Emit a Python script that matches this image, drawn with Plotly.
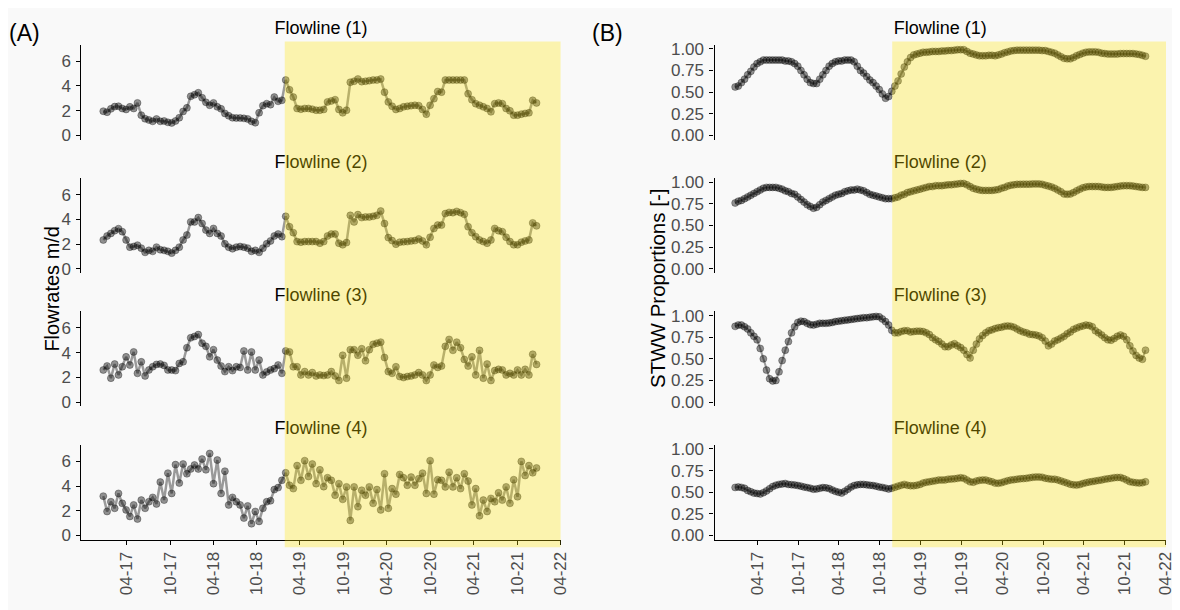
import pandas as pd
import plotly.graph_objects as go

# ---------------- data ----------------
dates_a = pd.date_range("2016-12-24", periods=115, freq="16D")
dates_b = pd.date_range("2016-12-24", periods=132, freq="14D")

flow_1 = [1.96, 1.88, 2.15, 2.33, 2.36, 2.18, 2.10, 2.31, 2.18, 2.63, 1.64, 1.35, 1.25, 1.14, 1.33, 1.14, 1.17, 1.06, 1.01, 1.17,
          1.43, 1.94, 2.23, 3.16, 3.29, 3.45, 3.05, 2.68, 2.44, 2.63, 2.31, 2.15, 1.78, 1.59, 1.43, 1.41, 1.41, 1.38, 1.33, 1.14,
          1.03, 1.83, 2.41, 2.57, 2.49, 3.10, 2.76, 2.84, 4.48, 3.69, 3.10, 2.18, 2.12, 2.18, 2.18, 2.12, 2.04, 2.04, 2.10, 2.71,
          2.79, 2.89, 2.10, 1.83, 2.04, 4.30, 4.38, 4.56, 4.35, 4.38, 4.43, 4.48, 4.48, 4.56, 3.50, 2.71, 2.36, 2.10, 2.18, 2.31,
          2.36, 2.41, 2.44, 2.41, 2.10, 1.72, 2.44, 2.97, 3.55, 3.50, 4.48, 4.48, 4.48, 4.48, 4.48, 4.48, 3.37, 2.89, 2.57, 2.44,
          2.31, 2.18, 1.91, 2.57, 2.63, 2.57, 2.18, 1.99, 1.64, 1.64, 1.72, 1.78, 1.83, 2.84, 2.63]
flow_2 = [2.33, 2.65, 2.86, 3.08, 3.24, 3.00, 2.33, 1.75, 1.80, 1.91, 1.67, 1.33, 1.49, 1.41, 1.75, 1.54, 1.49, 1.41, 1.27, 1.49,
          1.75, 2.33, 2.73, 3.79, 3.79, 4.14, 3.66, 3.13, 2.86, 3.26, 2.86, 2.65, 2.02, 1.75, 1.62, 1.75, 1.80, 1.75, 1.67, 1.41,
          1.49, 1.33, 1.67, 2.02, 2.25, 2.65, 2.81, 2.60, 4.24, 3.40, 2.92, 2.20, 2.15, 2.20, 2.20, 2.20, 2.20, 2.07, 2.20, 2.65,
          2.81, 2.81, 2.07, 1.94, 2.12, 4.32, 3.79, 4.38, 4.14, 4.19, 4.19, 4.24, 4.32, 4.67, 3.66, 2.52, 2.28, 1.99, 2.15, 2.18,
          2.20, 2.25, 2.28, 2.41, 2.25, 1.94, 2.55, 3.26, 3.53, 3.53, 4.46, 4.56, 4.54, 4.64, 4.54, 4.40, 3.40, 2.92, 2.60, 2.33,
          2.20, 2.07, 2.33, 3.26, 3.08, 3.00, 2.55, 2.20, 1.94, 1.94, 2.15, 2.25, 2.33, 3.71, 3.47]
flow_3 = [2.60, 2.92, 1.94, 3.08, 2.20, 2.86, 3.66, 3.00, 4.06, 2.33, 3.26, 2.12, 2.60, 2.86, 3.05, 3.08, 2.97, 2.60, 2.60, 2.55,
          3.13, 3.26, 4.40, 5.20, 5.31, 5.46, 4.77, 4.51, 3.66, 4.24, 3.40, 2.92, 2.47, 2.86, 2.55, 2.86, 2.81, 4.14, 2.60, 4.06,
          2.60, 3.40, 2.20, 2.44, 2.60, 2.71, 3.00, 2.33, 4.14, 4.06, 2.86, 2.86, 2.20, 2.47, 2.20, 2.39, 2.12, 2.20, 2.15, 2.20,
          2.47, 2.12, 1.75, 3.79, 1.94, 4.24, 4.24, 3.79, 4.32, 3.34, 4.24, 4.67, 4.77, 4.85, 3.61, 2.47, 2.33, 2.86, 2.07, 1.99,
          2.07, 2.12, 2.20, 2.39, 2.20, 1.75, 2.20, 3.00, 2.81, 2.92, 4.51, 5.07, 4.19, 4.85, 4.40, 3.45, 2.92, 3.66, 2.20, 4.19,
          1.94, 3.08, 1.75, 2.55, 2.65, 2.60, 2.20, 2.33, 2.20, 2.60, 2.20, 2.65, 2.20, 3.87, 3.05]
flow_4 = [3.18, 1.94, 2.73, 2.20, 3.40, 2.60, 2.07, 1.54, 2.47, 1.33, 2.86, 2.20, 2.73, 3.08, 2.55, 4.32, 2.86, 5.04, 3.40, 5.73,
          4.24, 5.78, 4.99, 5.38, 5.70, 5.38, 6.18, 5.31, 6.63, 4.19, 6.10, 3.40, 5.20, 2.47, 3.08, 2.73, 2.47, 1.41, 2.39, 0.95,
          1.94, 1.14, 2.20, 2.73, 2.81, 3.71, 3.87, 4.46, 5.07, 4.06, 3.79, 5.65, 4.46, 6.05, 4.77, 5.78, 4.19, 5.31, 3.95, 4.67,
          4.46, 3.26, 4.19, 2.92, 3.93, 1.22, 3.93, 2.33, 3.66, 3.26, 3.93, 2.60, 3.71, 2.07, 4.99, 2.20, 3.79, 3.34, 4.93, 4.67,
          4.06, 4.72, 4.06, 4.59, 5.04, 3.40, 6.05, 3.34, 4.51, 4.46, 3.93, 5.12, 3.93, 4.67, 3.79, 4.99, 4.40, 2.47, 3.79, 1.59,
          2.86, 1.94, 3.00, 2.73, 3.45, 2.86, 3.93, 2.60, 4.51, 3.13, 5.99, 4.85, 5.65, 5.07, 5.46]

stww_1 = [0.56, 0.57, 0.61, 0.65, 0.70, 0.74, 0.79, 0.83, 0.85, 0.87, 0.87, 0.87, 0.87, 0.87, 0.87, 0.87, 0.86, 0.86, 0.85, 0.83,
          0.80, 0.75, 0.70, 0.65, 0.61, 0.60, 0.60, 0.65, 0.70, 0.75, 0.80, 0.83, 0.85, 0.86, 0.86, 0.87, 0.87, 0.87, 0.85, 0.80,
          0.75, 0.72, 0.68, 0.64, 0.61, 0.57, 0.53, 0.48, 0.43, 0.45, 0.51, 0.57, 0.63, 0.71, 0.79, 0.85, 0.90, 0.93, 0.94, 0.95,
          0.96, 0.96, 0.965, 0.97, 0.97, 0.97, 0.975, 0.975, 0.98, 0.98, 0.985, 0.99, 0.99, 0.99, 0.97, 0.95, 0.94, 0.93, 0.92, 0.92,
          0.92, 0.925, 0.925, 0.92, 0.93, 0.94, 0.955, 0.965, 0.975, 0.98, 0.985, 0.985, 0.985, 0.985, 0.985, 0.985, 0.985, 0.985, 0.98, 0.98,
          0.97, 0.96, 0.95, 0.93, 0.91, 0.89, 0.885, 0.885, 0.90, 0.92, 0.935, 0.95, 0.96, 0.965, 0.965, 0.965, 0.96, 0.95, 0.945, 0.94,
          0.94, 0.94, 0.94, 0.945, 0.945, 0.945, 0.945, 0.945, 0.94, 0.935, 0.925, 0.915]
stww_2 = [0.76, 0.78, 0.79, 0.81, 0.83, 0.85, 0.87, 0.89, 0.91, 0.93, 0.94, 0.94, 0.94, 0.94, 0.93, 0.92, 0.90, 0.89, 0.87, 0.86,
          0.83, 0.80, 0.77, 0.74, 0.72, 0.70, 0.71, 0.74, 0.77, 0.79, 0.81, 0.83, 0.85, 0.86, 0.87, 0.89, 0.90, 0.91, 0.91, 0.92,
          0.91, 0.90, 0.88, 0.86, 0.85, 0.84, 0.83, 0.82, 0.81, 0.81, 0.81, 0.82, 0.83, 0.85, 0.86, 0.88, 0.89, 0.90, 0.91, 0.92,
          0.93, 0.94, 0.95, 0.95, 0.96, 0.96, 0.96, 0.965, 0.97, 0.97, 0.975, 0.98, 0.985, 0.985, 0.97, 0.95, 0.93, 0.92, 0.91, 0.905,
          0.905, 0.905, 0.905, 0.91, 0.915, 0.93, 0.94, 0.955, 0.965, 0.97, 0.975, 0.975, 0.977, 0.977, 0.977, 0.98, 0.98, 0.98, 0.975, 0.965,
          0.955, 0.945, 0.93, 0.91, 0.89, 0.865, 0.86, 0.865, 0.88, 0.90, 0.92, 0.935, 0.945, 0.95, 0.95, 0.95, 0.95, 0.945, 0.94, 0.94,
          0.94, 0.945, 0.95, 0.955, 0.96, 0.96, 0.96, 0.955, 0.95, 0.945, 0.94, 0.94]
stww_3 = [0.875, 0.89, 0.89, 0.87, 0.845, 0.80, 0.76, 0.72, 0.62, 0.50, 0.37, 0.27, 0.245, 0.25, 0.35, 0.48, 0.60, 0.70, 0.80, 0.87,
          0.92, 0.935, 0.93, 0.91, 0.895, 0.89, 0.90, 0.91, 0.91, 0.91, 0.915, 0.92, 0.93, 0.935, 0.94, 0.945, 0.95, 0.955, 0.96, 0.965,
          0.97, 0.975, 0.975, 0.98, 0.985, 0.99, 0.985, 0.96, 0.93, 0.89, 0.83, 0.80, 0.80, 0.815, 0.825, 0.825, 0.81, 0.815, 0.82, 0.82,
          0.815, 0.80, 0.78, 0.745, 0.72, 0.70, 0.67, 0.64, 0.64, 0.66, 0.675, 0.65, 0.63, 0.60, 0.55, 0.51, 0.60, 0.67, 0.73, 0.77,
          0.80, 0.825, 0.835, 0.85, 0.86, 0.865, 0.875, 0.88, 0.875, 0.865, 0.845, 0.825, 0.81, 0.80, 0.785, 0.78, 0.775, 0.765, 0.745, 0.705,
          0.65, 0.67, 0.705, 0.72, 0.74, 0.76, 0.79, 0.81, 0.84, 0.855, 0.87, 0.88, 0.89, 0.885, 0.87, 0.825, 0.80, 0.775, 0.745, 0.72,
          0.715, 0.735, 0.76, 0.775, 0.76, 0.72, 0.65, 0.59, 0.54, 0.51, 0.495, 0.60]
stww_4 = [0.555, 0.56, 0.555, 0.545, 0.52, 0.505, 0.49, 0.485, 0.48, 0.495, 0.515, 0.54, 0.565, 0.58, 0.59, 0.595, 0.60, 0.59, 0.587, 0.583,
          0.577, 0.57, 0.56, 0.553, 0.545, 0.535, 0.538, 0.545, 0.553, 0.55, 0.542, 0.525, 0.51, 0.50, 0.49, 0.51, 0.535, 0.56, 0.577, 0.585,
          0.59, 0.59, 0.585, 0.58, 0.577, 0.57, 0.56, 0.555, 0.547, 0.537, 0.545, 0.557, 0.57, 0.58, 0.59, 0.58, 0.575, 0.575, 0.58, 0.59,
          0.605, 0.615, 0.62, 0.627, 0.633, 0.64, 0.64, 0.642, 0.65, 0.652, 0.655, 0.66, 0.667, 0.66, 0.64, 0.62, 0.615, 0.628, 0.637, 0.64,
          0.64, 0.63, 0.62, 0.605, 0.603, 0.61, 0.622, 0.632, 0.64, 0.645, 0.65, 0.655, 0.657, 0.66, 0.667, 0.672, 0.675, 0.675, 0.672, 0.662,
          0.655, 0.65, 0.65, 0.642, 0.63, 0.617, 0.605, 0.592, 0.585, 0.582, 0.588, 0.60, 0.61, 0.617, 0.623, 0.63, 0.636, 0.642, 0.65, 0.655,
          0.66, 0.668, 0.67, 0.67, 0.657, 0.64, 0.622, 0.614, 0.61, 0.606, 0.61, 0.62]

panel_titles = ["Flowline (1)", "Flowline (2)", "Flowline (3)", "Flowline (4)"]
flow_ticks = [0, 2, 4, 6]
stww_ticks = [0, 0.25, 0.5, 0.75, 1.0]
date_ticks = pd.date_range("2017-04-01", "2022-04-01", freq="6MS")
shade_start_a = "2019-01-27"
shade_start_b = "2018-11-26"

# ---------------- layout (figure pixel coordinates) ----------------
W, H = 1180, 610
x_range = ["2016-09-23", "2022-04-03"]
rows_top = [32.1, 167.9, 303.7, 439.5]
panel_h = 97.0
a_px = (74, 557)
b_px = (712, 1167)
a_range = [-0.35, 7.35]
b_range = [-0.05, 1.05]

FONT = "Liberation Sans, Arial, sans-serif"
TICKC = "#4d4d4d"
BG = "#f9f9f9"

fig = go.Figure()
layout = dict(
    width=W, height=H, margin=dict(l=0, r=0, t=0, b=0),
    paper_bgcolor=BG, plot_bgcolor="rgba(0,0,0,0)", showlegend=False,
    font=dict(family=FONT, size=17, color="black"),
)

marker = dict(size=7, color="rgba(0,0,0,0.42)", line=dict(width=1, color="rgba(0,0,0,0.30)"))
lineA = dict(color="rgba(0,0,0,0.38)", width=2.5)
lineB = dict(color="rgba(0,0,0,0.38)", width=2)

series_a = [flow_1, flow_2, flow_3, flow_4]
series_b = [stww_1, stww_2, stww_3, stww_4]

for col in range(2):
    for r in range(4):
        k = col * 4 + r + 1
        xa = "x" if k == 1 else f"x{k}"
        ya = "y" if k == 1 else f"y{k}"
        top = rows_top[r]
        dom_y = [1 - (top + panel_h) / H, 1 - top / H]
        px = a_px if col == 0 else b_px
        dom_x = [px[0] / W, px[1] / W]
        bottom = (r == 3)
        if col == 0:
            xs, ys, yr, ticks, tfmt, ln = dates_a, series_a[r], a_range, flow_ticks, "d", lineA
        else:
            xs, ys, yr, ticks, tfmt, ln = dates_b, series_b[r], b_range, stww_ticks, ".2f", lineB
        fig.add_trace(go.Scatter(x=xs, y=ys, mode="lines+markers", line=ln, marker=marker,
                                 xaxis=xa, yaxis=ya, hoverinfo="skip", cliponaxis=False))
        xkey = "xaxis" if k == 1 else f"xaxis{k}"
        ykey = "yaxis" if k == 1 else f"yaxis{k}"
        layout[xkey] = dict(
            domain=dom_x, anchor=ya, range=x_range, type="date",
            showgrid=False, zeroline=False,
            showline=bottom, linecolor="black", linewidth=1.3,
            ticks="outside" if bottom else "", ticklen=4, tickwidth=1.3, tickcolor="black",
            tickvals=list(date_ticks), tickformat="%m-%y", tickangle=-90,
            showticklabels=bottom, tickfont=dict(family=FONT, size=17, color=TICKC),
        )
        layout[ykey] = dict(
            domain=dom_y, anchor=xa, range=yr, showgrid=False, zeroline=False,
            showline=True, linecolor="black", linewidth=1.3,
            ticks="outside", ticklen=4, tickwidth=1.3, tickcolor="black",
            tickvals=ticks, tickformat=tfmt, ticklabelstandoff=2,
            tickfont=dict(family=FONT, size=17, color=TICKC),
        )

# overlay pixel-space axis for the facet titles (so the highlight can tint them)
layout["xaxis9"] = dict(domain=[0, 1], range=[0, W], visible=False, anchor="y9", fixedrange=True)
layout["yaxis9"] = dict(domain=[0, 1], range=[H, 0], visible=False, anchor="x9", fixedrange=True)
title_x = []
title_y = []
title_txt = []
for px in (a_px, b_px):
    for r in range(4):
        title_x.append((px[0] + px[1]) / 2)
        title_y.append(rows_top[r] - 15)
        title_txt.append(panel_titles[r])
fig.add_trace(go.Scatter(x=title_x, y=title_y, mode="text", text=title_txt,
                         textposition="middle center",
                         textfont=dict(family=FONT, size=18, color="black"),
                         xaxis="x9", yaxis="y9", hoverinfo="skip", cliponaxis=False))

fig.update_layout(**layout)

# yellow highlight drawn above data and titles
shade_y0 = 1 - 544 / H
shade_y1 = 1 - 29 / H
for xref, start in (("x4", shade_start_a), ("x8", shade_start_b)):
    fig.add_shape(type="rect", xref=xref, yref="paper", x0=start, x1=x_range[1],
                  y0=shade_y0, y1=shade_y1, layer="above",
                  fillcolor="rgba(255,228,0,0.30)", line=dict(width=0))

# labels
for txt, xp in (("(A)", 17), ("(B)", 604)):
    fig.add_annotation(text=txt, x=xp / W, y=1 - 20 / H, xref="paper", yref="paper",
                       xanchor="center", yanchor="middle", showarrow=False,
                       font=dict(family=FONT, size=23, color="black"))
fig.add_annotation(text="Flowrates m/d", x=44 / W, y=1 - 281 / H, xref="paper", yref="paper",
                   xanchor="center", yanchor="middle", textangle=-90, showarrow=False,
                   font=dict(family=FONT, size=20, color="black"))
fig.add_annotation(text="STWW Proportions [-]", x=655 / W, y=1 - 281 / H, xref="paper", yref="paper",
                   xanchor="center", yanchor="middle", textangle=-90, showarrow=False,
                   font=dict(family=FONT, size=20.5, color="black"))

fig.write_html("out.html")
